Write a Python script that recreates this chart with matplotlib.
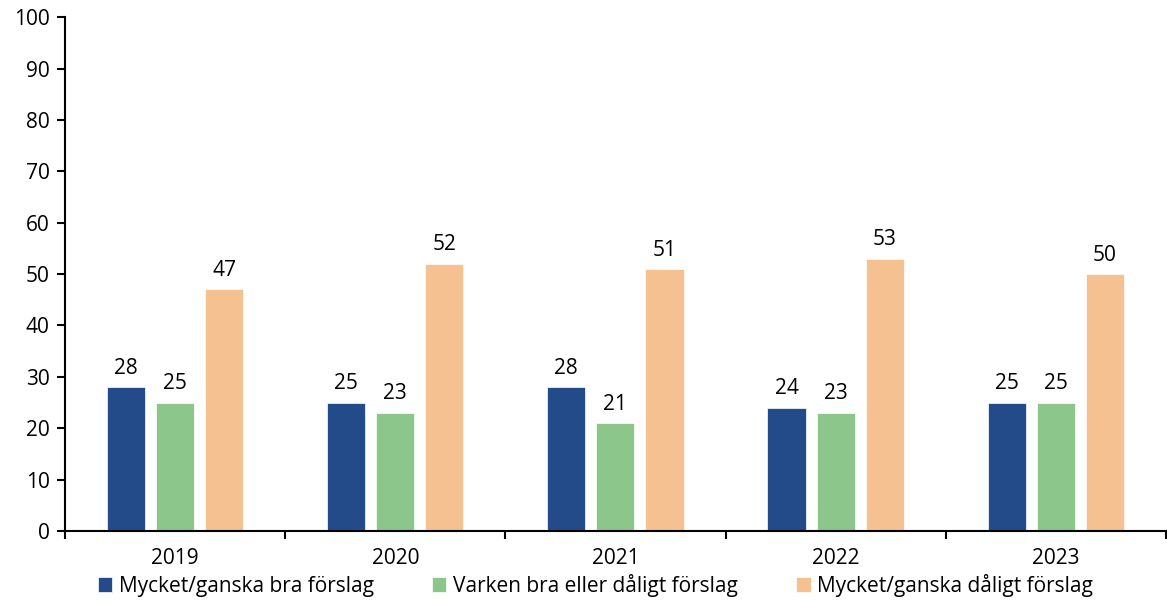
import matplotlib
matplotlib.use("Agg")
import matplotlib.pyplot as plt
import numpy as np

years = ["2019", "2020", "2021", "2022", "2023"]
bra = [28, 25, 28, 24, 25]
varken = [25, 23, 21, 23, 25]
daligt = [47, 52, 51, 53, 50]
series_names = ["Mycket/ganska bra förslag",
                "Varken bra eller dåligt förslag",
                "Mycket/ganska dåligt förslag"]
colors = ["#244B89", "#8CC68A", "#F5C191"]

plt.rcParams["font.family"] = ["Open Sans", "DejaVu Sans"]
plt.rcParams["font.size"] = 15

fig = plt.figure(figsize=(11.67, 6.01), dpi=100)
ax = fig.add_axes([0.0557, 0.1165, 0.9433, 0.855])

x = np.arange(len(years))
w = 0.173
step = 0.223
for i, (vals, name, c) in enumerate(zip([bra, varken, daligt], series_names, colors)):
    pos = x + (i - 1) * step
    ax.bar(pos, vals, w, color=c, label=name, edgecolor="white", linewidth=0.5)
    for xp, v in zip(pos, vals):
        ax.annotate(str(v), (xp, v), xytext=(0, 6), textcoords="offset points",
                    ha="center", va="bottom", fontsize=15)

ax.set_xlim(-0.5, len(years) - 0.5)
ax.set_ylim(0, 100)
ax.set_yticks(range(0, 101, 10))
ax.set_xticks(x)
ax.set_xticklabels(years)
ax.set_xticks(np.arange(-0.5, len(years)), minor=True)
ax.tick_params(axis="x", which="major", length=0, pad=12)
ax.tick_params(axis="x", which="minor", length=6, width=1.5, direction="out")
ax.tick_params(axis="y", length=6, width=1.5, direction="out", pad=5)
for s in ["top", "right"]:
    ax.spines[s].set_visible(False)
for s in ["left", "bottom"]:
    ax.spines[s].set_linewidth(1.5)

fig.legend(loc="center", bbox_to_anchor=(0.51, 0.026), ncol=3, frameon=False,
           handlelength=0.7, handleheight=0.7, handletextpad=0.3, columnspacing=2.8,
           fontsize=15, borderaxespad=0, borderpad=0)

fig.savefig("out.png", dpi=100)
